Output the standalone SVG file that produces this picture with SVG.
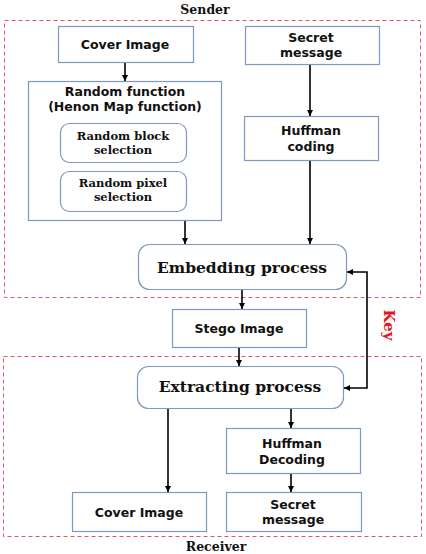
<svg xmlns="http://www.w3.org/2000/svg" width="426" height="554" viewBox="0 0 426 554">
<defs>
<marker id="ah" viewBox="0 0 10 10" refX="10" refY="5" markerWidth="6" markerHeight="6" markerUnits="userSpaceOnUse" orient="auto">
<path d="M0,0 L10,5 L0,10 z" fill="#000"/>
</marker>
</defs>
<style>
.box{fill:#fff;stroke:#7f98c2;stroke-width:1.2}
.zone{fill:none;stroke:#e35868;stroke-width:1;stroke-dasharray:4,3}
.sans{font-family:"DejaVu Sans","Liberation Sans",sans-serif;font-weight:bold;font-size:12.5px;fill:#111;text-anchor:middle}
.serif{font-family:"DejaVu Serif","Liberation Serif",serif;font-weight:bold;fill:#111;text-anchor:middle}
.con{stroke:#000;stroke-width:1.6;fill:none;marker-end:url(#ah)}
</style>
<rect width="426" height="554" fill="#fff"/>
<g id="sender-zone">
<rect class="zone" x="4.5" y="20.5" width="416" height="277"/>
<text class="serif" x="205" y="14" font-size="12.5">Sender</text>
</g>
<g id="receiver-zone">
<rect class="zone" x="3.5" y="356.5" width="418" height="180"/>
<text class="serif" x="216" y="551" font-size="12.5">Receiver</text>
</g>
<g id="cover-image">
<rect class="box" x="58.5" y="26.5" width="135" height="36"/>
<text class="sans" x="125" y="49">Cover Image</text>
</g>
<g id="secret-message">
<rect class="box" x="245.5" y="26.5" width="134" height="38"/>
<text class="sans" x="311" y="42">Secret</text>
<text class="sans" x="311" y="57">message</text>
</g>
<g id="random-function">
<rect class="box" x="28.5" y="81.5" width="193" height="139"/>
<text class="sans" x="125" y="96">Random function</text>
<text class="sans" x="125" y="111">(Henon Map function)</text>
</g>
<g id="random-block">
<rect class="box" x="60.5" y="123.5" width="126" height="39" rx="9"/>
<text class="serif" x="123" y="140" font-size="11.5">Random block</text>
<text class="serif" x="123" y="154" font-size="11.5">selection</text>
</g>
<g id="random-pixel">
<rect class="box" x="60.5" y="171.5" width="126" height="40" rx="9"/>
<text class="serif" x="123" y="187" font-size="11.5">Random pixel</text>
<text class="serif" x="123" y="201" font-size="11.5">selection</text>
</g>
<g id="huffman-coding">
<rect class="box" x="244.5" y="116.5" width="134" height="44"/>
<text class="sans" x="311" y="135">Huffman</text>
<text class="sans" x="311" y="151">coding</text>
</g>
<g id="embedding">
<rect class="box" x="138.5" y="244.5" width="208" height="45" rx="11"/>
<text class="serif" x="242" y="273" font-size="15.5">Embedding process</text>
</g>
<g id="stego-image">
<rect class="box" x="172.5" y="309.5" width="134" height="38"/>
<text class="sans" x="239" y="333">Stego Image</text>
</g>
<g id="extracting">
<rect class="box" x="137.5" y="366.5" width="206" height="42" rx="11"/>
<text class="serif" x="240" y="392" font-size="15.5">Extracting process</text>
</g>
<g id="huffman-decoding">
<rect class="box" x="226.5" y="428.5" width="134" height="45"/>
<text class="sans" x="292" y="448">Huffman</text>
<text class="sans" x="292" y="464">Decoding</text>
</g>
<g id="cover-image-out">
<rect class="box" x="72.5" y="492.5" width="134" height="39"/>
<text class="sans" x="139" y="517">Cover Image</text>
</g>
<g id="secret-message-out">
<rect class="box" x="226.5" y="492.5" width="135" height="39"/>
<text class="sans" x="293" y="509">Secret</text>
<text class="sans" x="293" y="524">message</text>
</g>
<g id="key-label">
<text class="serif" x="0" y="0" font-size="15" style="fill:#e8141c" transform="translate(384,325) rotate(90)">Key</text>
</g>
<g id="connectors">
<line class="con" x1="125" y1="63" x2="125" y2="81"/>
<line class="con" x1="310" y1="65" x2="310" y2="116"/>
<line class="con" x1="185" y1="221" x2="185" y2="244"/>
<line class="con" x1="310" y1="161" x2="310" y2="244"/>
<line class="con" x1="242" y1="290" x2="242" y2="309"/>
<line class="con" x1="239" y1="348" x2="239" y2="366"/>
<line class="con" x1="168" y1="409" x2="168" y2="492"/>
<line class="con" x1="291" y1="409" x2="291" y2="428"/>
<line class="con" x1="291" y1="474" x2="291" y2="492"/>
<polyline class="con" points="367,300 367,272 347,272"/>
<polyline class="con" points="367,300 367,388 344,388"/>
</g>
</svg>
